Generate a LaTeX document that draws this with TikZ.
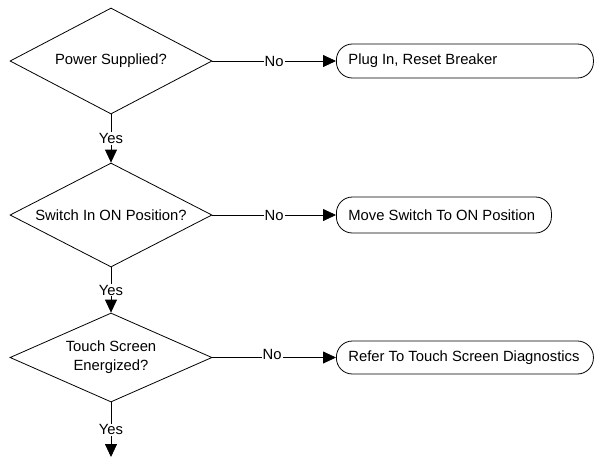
\documentclass[tikz,border=0pt]{standalone}
\usepackage{fontspec}
\setmainfont{Liberation Sans}
\usetikzlibrary{shapes.geometric,arrows.meta}
\begin{document}
\begin{tikzpicture}[x=1pt,y=-1pt,
  font=\fontsize{14.8}{19}\selectfont,
  line width=0.8pt,
  decision/.style={draw, diamond, aspect=1.9, inner sep=0pt, minimum width=202pt, align=center},
  action/.style={draw, rounded corners=16pt, anchor=west, minimum height=34pt, inner xsep=12pt, inner ysep=0pt},
  flow/.style={-{Triangle[length=13pt,width=12pt]}},
  lbl/.style={fill=white, inner sep=1pt}]
\useasboundingbox (0,0) rectangle (594,459);
\node[decision, minimum height=106pt] (d1) at (111,61) {Power Supplied?};
\node[decision, minimum height=104pt] (d2) at (111,215) {Switch In ON Position?};
\node[decision, minimum height=89pt] (d3) at (111,357.5) {Touch Screen\\Energized?};
\node[action] (b1) at (336,61) {\makebox[233pt][l]{Plug In, Reset Breaker}};
\node[action, minimum height=36pt] (b2) at (336,215) {\makebox[191pt][l]{Move Switch To ON Position}};
\node[action, minimum height=33pt] (b3) at (336,357.5) {\makebox[233pt][l]{Refer To Touch Screen Diagnostics}};
\coordinate (end) at (111,457);
\draw[flow] (d1.east) -- node[lbl]{No} (b1.west);
\draw[flow] (d2.east) -- node[lbl]{No} (b2.west);
\draw[flow] (d3.east) -- node[lbl, yshift=3pt, xshift=-2pt]{No} (b3.west);
\draw[flow] (d1.south) -- node[lbl]{Yes} (d2.north);
\draw[flow] (d2.south) -- node[lbl]{Yes} (d3.north);
\draw[flow] (d3.south) -- node[lbl]{Yes} (end);
\end{tikzpicture}
\end{document}
